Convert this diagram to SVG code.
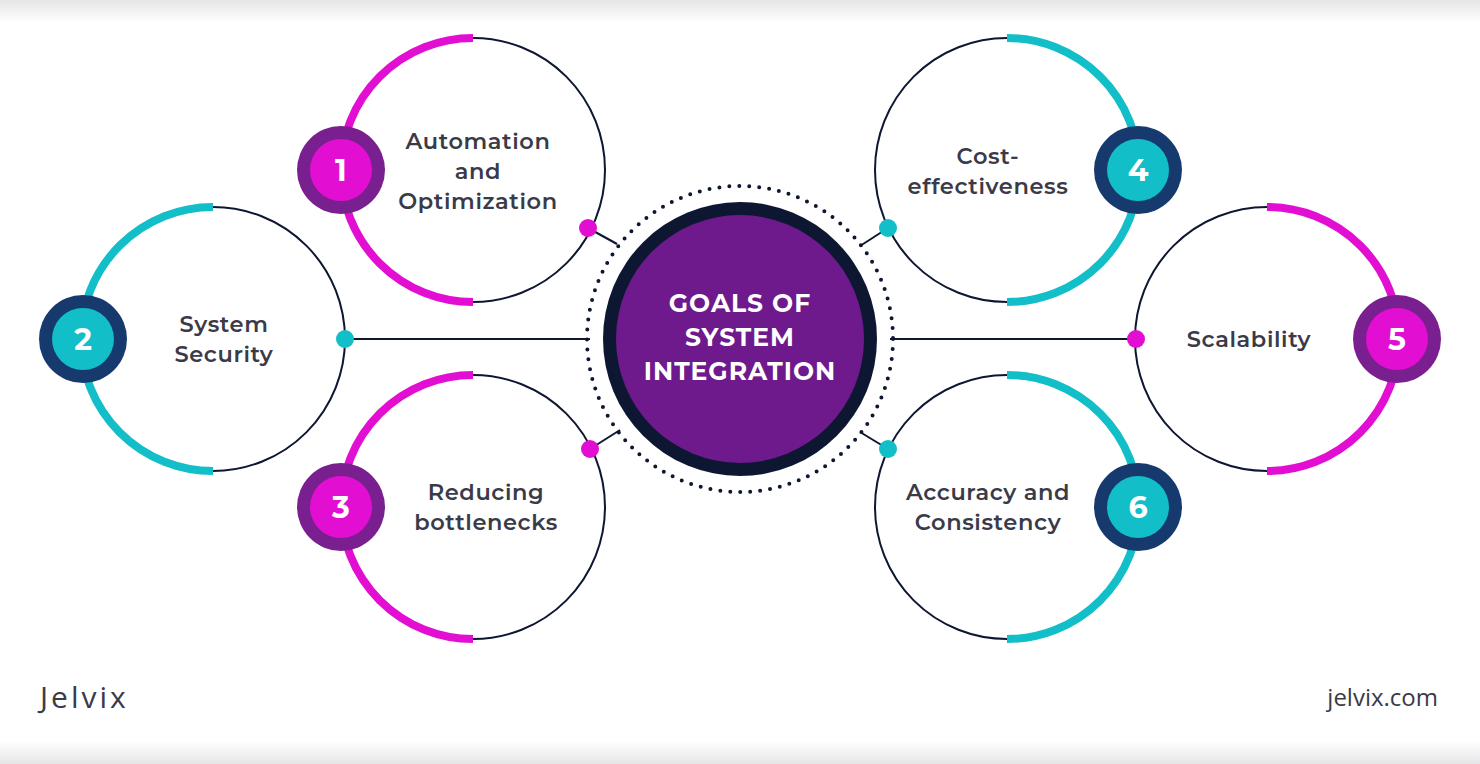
<svg xmlns="http://www.w3.org/2000/svg" width="1480" height="764" viewBox="0 0 1480 764">
<defs>
<linearGradient id="bg" x1="0" y1="0" x2="0" y2="1">
<stop offset="0" stop-color="#e6e6e8"/><stop offset="0.03" stop-color="#ffffff"/><stop offset="0.97" stop-color="#ffffff"/><stop offset="1" stop-color="#e6e6e8"/>
</linearGradient>
</defs>
<style>
.ring{fill:none;stroke:#0e1732;stroke-width:2}
.am{fill:none;stroke:#e20fd2;stroke-width:8}
.at{fill:none;stroke:#12bec8;stroke-width:8}
.lbl{font-family:Montserrat,"Open Sans","Liberation Sans",sans-serif;font-size:22.5px;font-weight:600;fill:#3a3a48;text-anchor:middle;letter-spacing:0.6px}
.num{font-family:Montserrat,"Open Sans","Liberation Sans",sans-serif;font-size:30px;font-weight:700;fill:#fff;text-anchor:middle}
.con{stroke:#0e1732;stroke-width:2}
</style>
<rect width="1480" height="764" fill="url(#bg)"/>
<g id="connectors">
<line class="con" x1="588" y1="228" x2="617" y2="244"/>
<line class="con" x1="345" y1="339" x2="590" y2="339"/>
<line class="con" x1="590" y1="449" x2="620" y2="430"/>
<line class="con" x1="888" y1="228" x2="860" y2="246"/>
<line class="con" x1="890" y1="339" x2="1136" y2="339"/>
<line class="con" x1="888" y1="449" x2="860" y2="432"/>
</g>
<g id="center">
<circle cx="740" cy="339" r="153" fill="none" stroke="#0e1732" stroke-width="4" stroke-dasharray="0 10" stroke-linecap="round"/>
<circle cx="740" cy="339" r="137" fill="#0e1732"/>
<circle cx="740" cy="339" r="124" fill="#6e1a8c"/>
<text class="lbl" style="fill:#fff;font-size:25px;font-weight:700;letter-spacing:1px" x="740" y="312">GOALS OF</text>
<text class="lbl" style="fill:#fff;font-size:25px;font-weight:700;letter-spacing:1px" x="740" y="346">SYSTEM</text>
<text class="lbl" style="fill:#fff;font-size:25px;font-weight:700;letter-spacing:1px" x="740" y="380">INTEGRATION</text>
</g>
<g id="n1">
<circle class="ring" cx="473" cy="170" r="132"/>
<path class="am" d="M473 38 A132 132 0 0 0 473 302"/>
<circle cx="341" cy="170" r="44" fill="#7a1f8f"/><circle cx="341" cy="170" r="31" fill="#e20fd2"/>
<text class="num" x="341" y="181">1</text>
<circle cx="588" cy="228" r="9" fill="#e20fd2"/>
<text class="lbl" x="478" y="149">Automation</text><text class="lbl" x="478" y="179">and</text><text class="lbl" x="478" y="209">Optimization</text>
</g>
<g id="n2">
<circle class="ring" cx="213" cy="339" r="132"/>
<path class="at" d="M213 207 A132 132 0 0 0 213 471"/>
<circle cx="83" cy="339" r="44" fill="#173a6e"/><circle cx="83" cy="339" r="31" fill="#12bec8"/>
<text class="num" x="83" y="350">2</text>
<circle cx="345" cy="339" r="9" fill="#12bec8"/>
<text class="lbl" x="224" y="332">System</text><text class="lbl" x="224" y="362">Security</text>
</g>
<g id="n3">
<circle class="ring" cx="473" cy="507" r="132"/>
<path class="am" d="M473 375 A132 132 0 0 0 473 639"/>
<circle cx="341" cy="507" r="44" fill="#7a1f8f"/><circle cx="341" cy="507" r="31" fill="#e20fd2"/>
<text class="num" x="341" y="518">3</text>
<circle cx="590" cy="449" r="9" fill="#e20fd2"/>
<text class="lbl" x="486" y="500">Reducing</text><text class="lbl" x="486" y="530">bottlenecks</text>
</g>
<g id="n4">
<circle class="ring" cx="1007" cy="170" r="132"/>
<path class="at" d="M1007 38 A132 132 0 0 1 1007 302"/>
<circle cx="1138" cy="170" r="44" fill="#173a6e"/><circle cx="1138" cy="170" r="31" fill="#12bec8"/>
<text class="num" x="1138" y="181">4</text>
<circle cx="888" cy="228" r="9" fill="#12bec8"/>
<text class="lbl" x="988" y="164">Cost-</text><text class="lbl" x="988" y="194">effectiveness</text>
</g>
<g id="n5">
<circle class="ring" cx="1267" cy="339" r="132"/>
<path class="am" d="M1267 207 A132 132 0 0 1 1267 471"/>
<circle cx="1397" cy="339" r="44" fill="#7a1f8f"/><circle cx="1397" cy="339" r="31" fill="#e20fd2"/>
<text class="num" x="1397" y="350">5</text>
<circle cx="1136" cy="339" r="9" fill="#e20fd2"/>
<text class="lbl" x="1249" y="347">Scalability</text>
</g>
<g id="n6">
<circle class="ring" cx="1007" cy="507" r="132"/>
<path class="at" d="M1007 375 A132 132 0 0 1 1007 639"/>
<circle cx="1138" cy="507" r="44" fill="#173a6e"/><circle cx="1138" cy="507" r="31" fill="#12bec8"/>
<text class="num" x="1138" y="518">6</text>
<circle cx="888" cy="449" r="9" fill="#12bec8"/>
<text class="lbl" x="988" y="500">Accuracy and</text><text class="lbl" x="988" y="530">Consistency</text>
</g>
<text x="40" y="708" style="font-family:'Open Sans','Liberation Sans',sans-serif;font-size:30px;fill:#3a3a48;letter-spacing:3px">Jelvix</text>
<text x="1438" y="706" text-anchor="end" style="font-family:'Open Sans','Liberation Sans',sans-serif;font-size:24px;fill:#3a3a48">jelvix.com</text>
</svg>
